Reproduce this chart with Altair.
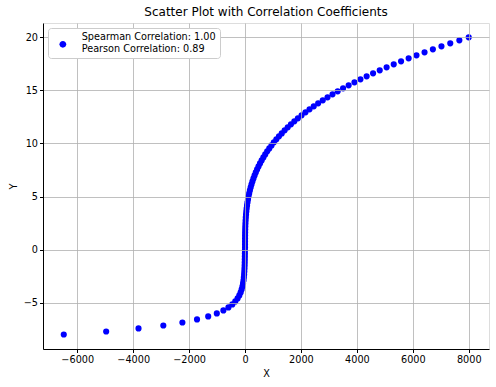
import altair as alt
import pandas as pd

# y values (evenly stepped, about 0.283 apart)
y_vals = [
    -8.000, -7.717, -7.434, -7.152, -6.869, -6.586, -6.303, -6.020, -5.737, -5.455,
    -5.172, -4.889, -4.606, -4.323, -4.040, -3.758, -3.475, -3.192, -2.909, -2.626,
    -2.343, -2.061, -1.778, -1.495, -1.212, -0.929, -0.646, -0.364, -0.081, 0.202,
    0.485, 0.768, 1.051, 1.333, 1.616, 1.899, 2.182, 2.465, 2.747, 3.030,
    3.313, 3.596, 3.879, 4.162, 4.444, 4.727, 5.010, 5.293, 5.576, 5.859,
    6.141, 6.424, 6.707, 6.990, 7.273, 7.556, 7.838, 8.121, 8.404, 8.687,
    8.970, 9.253, 9.535, 9.818, 10.101, 10.384, 10.667, 10.949, 11.232, 11.515,
    11.798, 12.081, 12.364, 12.646, 12.929, 13.212, 13.495, 13.778, 14.061, 14.343,
    14.626, 14.909, 15.192, 15.475, 15.758, 16.040, 16.323, 16.606, 16.889, 17.172,
    17.455, 17.737, 18.020, 18.303, 18.586, 18.869, 19.152, 19.434, 19.717, 20.000,
]

# x values
x_vals = [
    -6482, -4966, -3809, -2922, -2240, -1717, -1317, -1009, -774, -594,
    -455, -349, -267, -205, -157, -121, -92, -71, -54, -42,
    -32, -25, -19, -14, -11, -8.5, -6.5, -5, -3.8, 0.01,
    0.11, 0.45, 1.16, 2.37, 4.22, 6.85, 10.4, 15.0, 20.7, 27.8,
    36.4, 46.5, 58.4, 72.1, 87.8, 105.6, 125.8, 148.3, 173.4, 201.1,
    231.6, 265.1, 301.7, 341.5, 384.7, 431.4, 481.5, 535.6, 593.6, 655.6,
    721.7, 792.2, 866.9, 946.4, 1030.6, 1119.7, 1213.7, 1312.6, 1417.0, 1526.8,
    1642.2, 1763.2, 1890.0, 2022.4, 2161.2, 2306.2, 2457.6, 2615.5, 2780.0, 2950.7,
    3128.8, 3313.9, 3506.2, 3705.8, 3913.0, 4126.8, 4349.1, 4579.2, 4817.3, 5063.6,
    5318.2, 5580.2, 5851.4, 6131.5, 6420.2, 6718.2, 7024.9, 7339.8, 7665.1, 8000.0,
]

legend_label = "Spearman Correlation: 1.00|Pearson Correlation: 0.89"
x_ticks = [-6000, -4000, -2000, 0, 2000, 4000, 6000, 8000]
y_ticks = [-5, 0, 5, 10, 15, 20]

df = pd.DataFrame({"x": x_vals, "y": y_vals, "series": [legend_label] * len(x_vals)})

FONT = "DejaVu Sans"
FS = 9.7

# legend handle: a unit circle drawn a little lower, so it sits between the two label lines
LEGEND_SYMBOL = "M -1 2.2 A 1 1 0 1 0 1 2.2 A 1 1 0 1 0 -1 2.2 Z"

axis_common = dict(
    domainColor="black",
    domainWidth=1,
    tickColor="black",
    tickSize=3.5,
    tickWidth=1,
    labelColor="black",
    labelFont=FONT,
    labelFontSize=FS,
    labelPadding=2,
    titleColor="black",
    titleFont=FONT,
    titleFontSize=FS,
    titleFontWeight="normal",
    grid=True,
    gridColor="#b0b0b0",
    gridWidth=0.8,
    zindex=1,
)

chart = (
    alt.Chart(df)
    .mark_circle(size=38, opacity=1)
    .encode(
        x=alt.X(
            "x:Q",
            title="X",
            scale=alt.Scale(domain=[-7225, 8725], nice=False, zero=False),
            axis=alt.Axis(values=x_ticks, format="d", titlePadding=4, **axis_common),
        ),
        y=alt.Y(
            "y:Q",
            title="Y",
            scale=alt.Scale(domain=[-9.37, 21.35], nice=False, zero=False),
            axis=alt.Axis(values=y_ticks, format="d", titlePadding=5, **axis_common),
        ),
        color=alt.Color(
            "series:N",
            scale=alt.Scale(range=["#0000ff"]),
            legend=alt.Legend(
                title=None,
                orient="none",
                legendX=5,
                legendY=5,
                labelExpr="split(datum.label, '|')",
                labelFont=FONT,
                labelFontSize=FS,
                labelColor="black",
                labelLimit=400,
                labelBaseline="middle",
                symbolType=LEGEND_SYMBOL,
                symbolSize=46,
                symbolStrokeWidth=0,
                symbolOffset=6,
                labelOffset=14,
                padding=4,
                fillColor="white",
                strokeColor="#cccccc",
                cornerRadius=3,
                zindex=3,
            ),
        ),
    )
    .properties(
        width=446,
        height=326,
        title=alt.TitleParams(
            "Scatter Plot with Correlation Coefficients",
            font=FONT,
            fontSize=12,
            fontWeight="normal",
            color="black",
            anchor="middle",
            offset=4,
        ),
        autosize=alt.AutoSizeParams(type="none"),
        padding={"left": 43, "top": 23, "right": 7, "bottom": 38},
    )
    .configure_view(stroke="black", strokeWidth=1)
    .configure(background="white")
)

chart.save("out.html", embed_options={"renderer": "svg", "actions": False})
